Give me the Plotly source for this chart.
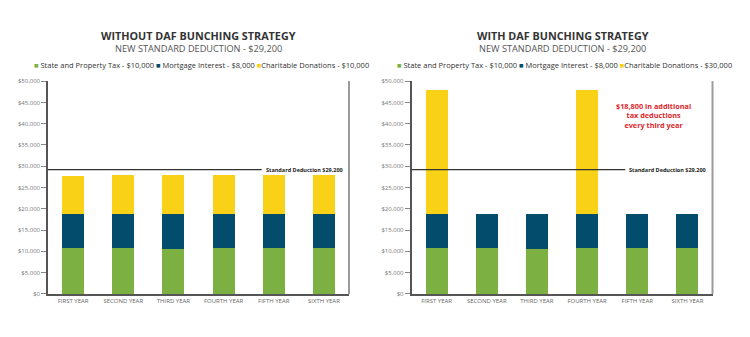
import plotly.graph_objects as go

# ---- data ----
years = ["FIRST YEAR", "SECOND YEAR", "THIRD YEAR", "FOURTH YEAR", "FIFTH YEAR", "SIXTH YEAR"]
state_property_tax = [10800, 10800, 10650, 10800, 10850, 10850]
mortgage_interest = [8000, 8050, 8050, 8000, 8050, 8050]
charitable_without = [9000, 9100, 9150, 9050, 8950, 8950]
charitable_with = [29200, 0, 0, 29200, 0, 0]
standard_deduction = 29200
tick_vals = [0, 5000, 10000, 15000, 20000, 25000, 30000, 35000, 40000, 45000, 50000]
tick_text = ["$0", "$5,000", "$10,000", "$15,000", "$20,000", "$25,000",
             "$30,000", "$35,000", "$40,000", "$45,000", "$50,000"]

titles = ["WITHOUT DAF BUNCHING STRATEGY", "WITH DAF BUNCHING STRATEGY"]
subtitle = "NEW STANDARD DEDUCTION - $29,200"
legend_names = ["State and Property Tax - $10,000", "Mortgage Interest - $8,000"]
charitable_names = ["Charitable Donations - $10,000", "Charitable Donations - $30,000"]
callout = "$18,800 in additional<br>tax deductions<br>every third year"

# ---- style ----
W, H = 750, 337
GREEN, NAVY, YELLOW = "#7cb043", "#034c6b", "#f9d116"
FONT = "Open Sans"


def px(x):
    return x / W


def py(y):
    return 1 - y / H


fig = go.Figure()

charitable_sets = [charitable_without, charitable_with]
for i, charit in enumerate(charitable_sets):
    xa = "x" if i == 0 else "x2"
    ya = "y" if i == 0 else "y2"
    for vals, col in [(state_property_tax, GREEN), (mortgage_interest, NAVY), (charit, YELLOW)]:
        fig.add_trace(go.Bar(x=years, y=vals, marker=dict(color=col, line=dict(width=0)),
                             width=0.44, xaxis=xa, yaxis=ya, showlegend=False,
                             hoverinfo="skip"))

axis_common = dict(showgrid=False, zeroline=False, showline=True, linecolor="#555555",
                   linewidth=1.5)
x_domains = [[px(48), px(349)], [px(411.5), px(712.5)]]
y_domain = [py(297), py(79)]

ytick_style = dict(range=[0, 50000], tickvals=tick_vals, ticktext=tick_text,
                   ticks="outside", ticklen=5, tickcolor="#888888",
                   tickfont=dict(size=6, color="#777777"))
xtick_style = dict(ticks="", tickfont=dict(size=6, color="#666666"))

fig.update_layout(
    width=W, height=H, margin=dict(l=0, r=0, t=0, b=0),
    paper_bgcolor="white", plot_bgcolor="white", barmode="stack",
    font=dict(family=FONT),
    xaxis=dict(domain=x_domains[0], anchor="y", **xtick_style, **axis_common),
    xaxis2=dict(domain=x_domains[1], anchor="y2", **xtick_style, **axis_common),
    yaxis=dict(domain=y_domain, anchor="x", **ytick_style, **axis_common),
    yaxis2=dict(domain=y_domain, anchor="x2", **ytick_style, **axis_common),
)

annotations = []
shapes = []
centers = [198.5, 562.5]
legend_centers = [201, 564]
for i in range(2):
    xref = "x domain" if i == 0 else "x2 domain"
    yref = "y" if i == 0 else "y2"
    # right-hand frame line
    shapes.append(dict(type="line", xref=xref, yref="paper", x0=1, x1=1,
                       y0=py(297), y1=py(79), line=dict(color="#9a9a9a", width=2)))
    # standard deduction line
    shapes.append(dict(type="line", xref=xref, yref=yref, x0=0, x1=0.71,
                       y0=standard_deduction, y1=standard_deduction,
                       line=dict(color="#333333", width=1.3)))
    annotations.append(dict(xref=xref, yref=yref, x=0.717, y=standard_deduction,
                            xanchor="left", yanchor="middle", showarrow=False,
                            text="<b>Standard Deduction $29,200</b>",
                            font=dict(size=5.5, color="#222222", family=FONT)))
    annotations.append(dict(xref="paper", yref="paper", x=px(centers[i]), y=py(32),
                            xanchor="center", yanchor="middle", showarrow=False,
                            text="<b>" + titles[i] + "</b>",
                            font=dict(size=10.8, color="#333333", family=FONT)))
    annotations.append(dict(xref="paper", yref="paper", x=px(centers[i]), y=py(45.5),
                            xanchor="center", yanchor="middle", showarrow=False,
                            text=subtitle,
                            font=dict(size=9.2, color="#555555", family=FONT)))
    legend_text = (
        f'<span style="color:{GREEN}">■</span> {legend_names[0]} '
        f'<span style="color:{NAVY}">■</span> {legend_names[1]} '
        f'<span style="color:{YELLOW}">■</span>{charitable_names[i]}'
    )
    annotations.append(dict(xref="paper", yref="paper", x=px(legend_centers[i]), y=py(62.5),
                            xanchor="center", yanchor="middle", showarrow=False,
                            text=legend_text,
                            font=dict(size=7.5, color="#333333", family=FONT)))

annotations.append(dict(xref="paper", yref="paper", x=px(653), y=py(114.5),
                        xanchor="center", yanchor="middle", showarrow=False,
                        text="<b>" + callout + "</b>",
                        font=dict(size=7.3, color="#e0262c", family=FONT)))

fig.update_layout(annotations=annotations, shapes=shapes)
fig.write_html("out.html")
